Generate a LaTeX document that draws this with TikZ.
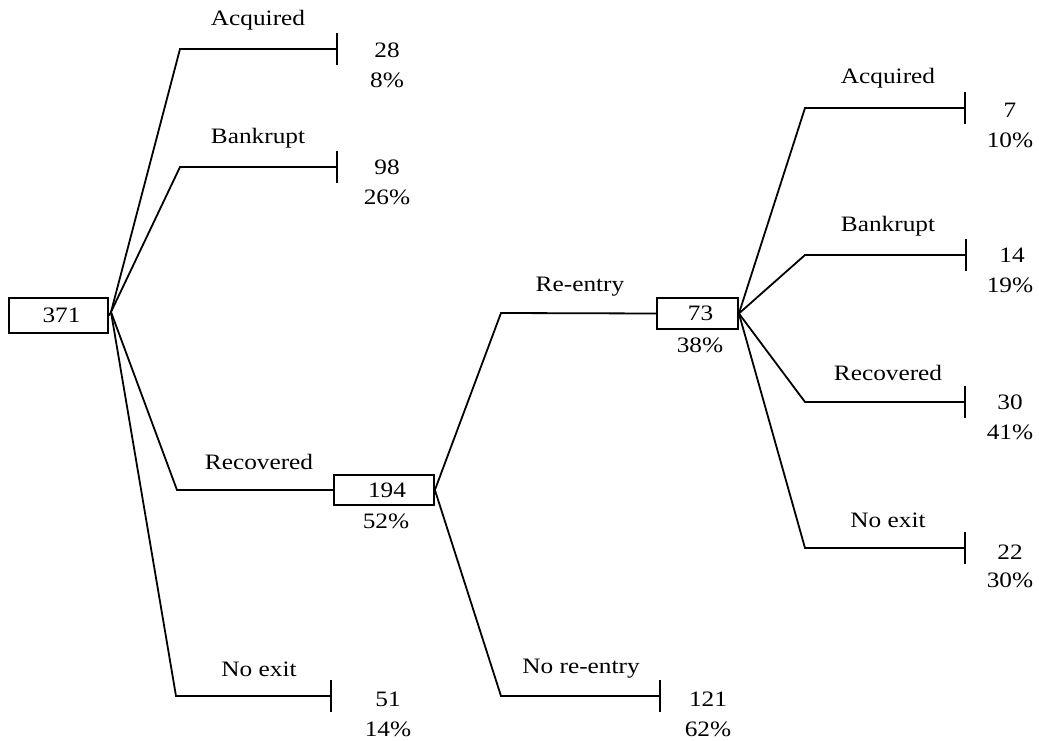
\documentclass[tikz,border=0pt]{standalone}
\usepackage{fontspec}
\setmainfont{Liberation Serif}[FakeStretch=1.15]
\begin{document}
\begin{tikzpicture}[x=1pt,y=-1pt,line width=1.8pt,
  box/.style={draw,rectangle,inner sep=0pt,line width=1.8pt,font=\fontsize{22}{26}\selectfont},
  txt/.style={inner sep=0pt,font=\fontsize{22}{26}\selectfont},
  conn/.style={line width=1.8pt},
  endtick/.style={line width=1.8pt}]
\useasboundingbox (0,0) rectangle (1039,741);

% boxes
\node[box,minimum width=99pt,minimum height=35pt] (r) at (58.5,315.5) {\hspace{6pt}371};
\node[box,minimum width=100pt,minimum height=30pt] (m) at (384,490) {\hspace{6pt}194};
\node[box,minimum width=81pt,minimum height=31pt] (s) at (697.5,313.5) {\hspace{6pt}73};

% branch points
\coordinate (rp) at (111,312);
\coordinate (a1) at (180,49);
\coordinate (b1) at (180,167);
\coordinate (c1) at (177,490);
\coordinate (d1) at (176,696);
\coordinate (ta) at (337,49);
\coordinate (tb) at (337,167);
\coordinate (td) at (331,696);

\coordinate (e1) at (501,313);
\coordinate (e2) at (501,696);
\coordinate (te) at (660,696);

\coordinate (f1) at (805,108);
\coordinate (f2) at (805,255);
\coordinate (f3) at (805,402);
\coordinate (f4) at (805,548);
\coordinate (tf1) at (965,108);
\coordinate (tf2) at (966,255);
\coordinate (tf3) at (965,402);
\coordinate (tf4) at (965,548);

% connectors
\draw[conn] (r.east) -- (rp);
\draw[conn] (rp) -- (a1) -- (ta);
\draw[conn] (rp) -- (b1) -- (tb);
\draw[conn] (rp) -- (c1) -- (m.west);
\draw[conn] (rp) -- (d1) -- (td);
\draw[conn] (m.east) -- (e1) -- (s.west);
\draw[conn] (m.east) -- (e2) -- (te);
\draw[conn] (s.east) -- (f1) -- (tf1);
\draw[conn] (s.east) -- (f2) -- (tf2);
\draw[conn] (s.east) -- (f3) -- (tf3);
\draw[conn] (s.east) -- (f4) -- (tf4);

% end ticks
\foreach \t in {ta,tb,td,te,tf1,tf2,tf3,tf4}
  \draw[endtick] ([yshift=-16pt]\t) -- ([yshift=16pt]\t);

% labels
\node[txt] (la) at (258,20) {Acquired};
\node[txt] (na) at (387,50) {28};
\node[txt] (pa) at (387,80) {8\%};
\node[txt] (lb) at (258,138) {Bankrupt};
\node[txt] (nb) at (387,167) {98};
\node[txt] (pb) at (387,197) {26\%};
\node[txt] (lc) at (259,462) {Recovered};
\node[txt] (pc) at (386,521) {52\%};
\node[txt] (ld) at (259,669) {No exit};
\node[txt] (nd) at (388,699) {51};
\node[txt] (pd) at (388,729) {14\%};

\node[txt] (le1) at (580,287) {Re-entry};
\node[txt] (ps) at (700,345) {38\%};
\node[txt] (le2) at (581,669) {No re-entry};
\node[txt] (ne2) at (708,699) {121};
\node[txt] (pe2) at (708,729) {62\%};

\node[txt] (lf1) at (888,78) {Acquired};
\node[txt] (nf1) at (1010,110) {7};
\node[txt] (pf1) at (1010,140) {10\%};
\node[txt] (lf2) at (888,226) {Bankrupt};
\node[txt] (nf2) at (1012,255) {14};
\node[txt] (pf2) at (1010,285) {19\%};
\node[txt] (lf3) at (888,373) {Recovered};
\node[txt] (nf3) at (1010,402) {30};
\node[txt] (pf3) at (1010,432) {41\%};
\node[txt] (lf4) at (888,520) {No exit};
\node[txt] (nf4) at (1010,552) {22};
\node[txt] (pf4) at (1010,580) {30\%};
\end{tikzpicture}
\end{document}
